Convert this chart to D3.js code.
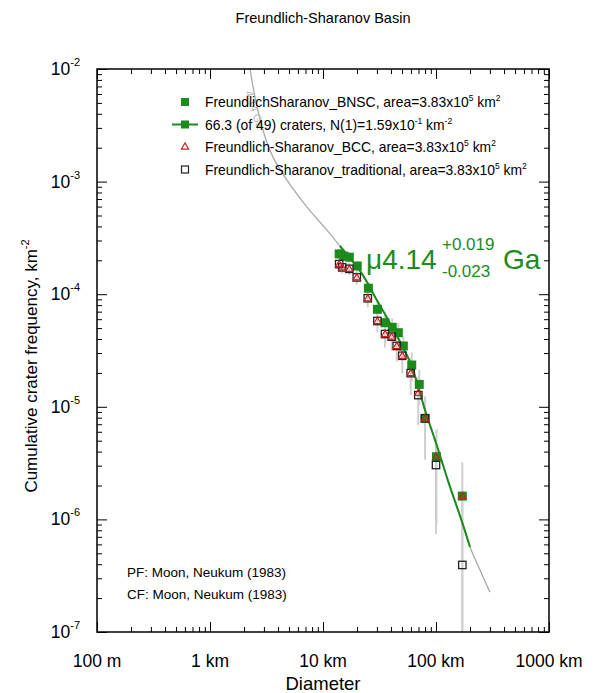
<!DOCTYPE html>
<html>
<head>
<meta charset="utf-8">
<script src="https://cdnjs.cloudflare.com/ajax/libs/d3/7.8.5/d3.min.js"></script>
<style>
  body { margin: 0; background: #fff; }
  svg text { font-family: "Liberation Sans", Arial, Helvetica, sans-serif; }
</style>
</head>
<body>
<div id="chart"></div>
<script>
// crater diameters (km) and cumulative frequencies (km^-2)
var bnscD   = [13.9, 15.3, 17.1, 20.1, 25.2, 30.3, 35.4, 41.0, 46.4, 51.4, 61.0, 71.1, 80.0, 101, 171];
var bnscN   = [2.28e-4, 2.18e-4, 2.13e-4, 1.78e-4, 1.13e-4, 7.34e-5, 5.58e-5, 5.08e-5, 4.55e-5, 3.47e-5, 2.35e-5, 1.58e-5, 7.9e-6, 3.6e-6, 1.61e-6];
var bnscErr = [2.2e-5, 2.1e-5, 2.1e-5, 1.9e-5, 1.5e-5, 1.2e-5, 1.05e-5, 1.0e-5, 9.5e-6, 8.3e-6, 6.8e-6, 5.5e-6, 3.8e-6, 2.7e-6, 1.6e-6];

var tradD   = [13.9, 14.8, 17.1, 19.9, 24.9, 30.3, 35.4, 40.5, 44.9, 50.3, 59.7, 69.7, 80.0, 100, 171];
var tradN   = [1.85e-4, 1.73e-4, 1.68e-4, 1.41e-4, 9.2e-5, 5.78e-5, 4.43e-5, 4.2e-5, 3.47e-5, 2.84e-5, 1.99e-5, 1.27e-5, 7.9e-6, 3.04e-6, 3.94e-7];
var tradErr = [2.2e-5, 2.1e-5, 2.1e-5, 1.9e-5, 1.55e-5, 1.2e-5, 1.07e-5, 1.05e-5, 9.5e-6, 8.6e-6, 7.2e-6, 5.8e-6, 4.5e-6, 2.3e-6, 1.0e-6];

var bccN    = [1.85e-4, 1.73e-4, 1.68e-4, 1.41e-4, 9.2e-5, 5.78e-5, 4.43e-5, 4.2e-5, 3.47e-5, 2.84e-5, 1.99e-5, 1.33e-5, 7.9e-6, 3.6e-6, 1.61e-6];

// 4.14 Ga isochron (Neukum 1983 PF)
var isoD = [2.21, 2.50, 2.94, 3.61, 4.80, 7.22, 10.8, 14.1, 22.0, 29.9, 37.8, 58.9, 69.3, 79.9, 100, 128, 170, 200, 245, 300];
var isoN = [1.15e-2, 5.64e-3, 2.87e-3, 1.65e-3, 1.03e-3, 5.94e-4, 3.72e-4, 2.68e-4, 1.53e-4, 8.88e-5, 5.90e-5, 2.50e-5, 1.53e-5, 9.37e-6, 4.77e-6, 2.19e-6, 9.5e-7, 5.69e-7, 3.55e-7, 2.26e-7];
var fitRange = [14.1, 200];

var xMajor  = [0.1, 1, 10, 100, 1000];
var xLabels = ["100 m", "1 km", "10 km", "100 km", "1000 km"];
var yMajor  = [1e-2, 1e-3, 1e-4, 1e-5, 1e-6, 1e-7];
var yExp    = ["-2", "-3", "-4", "-5", "-6", "-7"];

var legendRows = [
  {mark: "fill",  main: "FreundlichSharanov_BNSC, area=3.83x10", s1: "5", mid: " km", s2: "2"},
  {mark: "line",  main: "66.3 (of 49) craters, N(1)=1.59x10", s1: "-1", mid: " km", s2: "-2"},
  {mark: "tri",   main: "Freundlich-Sharanov_BCC, area=3.83x10", s1: "5", mid: " km", s2: "2"},
  {mark: "open",  main: "Freundlich-Sharanov_traditional, area=3.83x10", s1: "5", mid: " km", s2: "2"}
];

var W = 596, H = 693;
var pL = 97, pR = 549, pT = 69, pB = 632;
var green = "#1b8c1b", red = "#cc2020";

var svg = d3.select("#chart").append("svg")
    .attr("width", W).attr("height", H);

var x = d3.scaleLog().domain([0.1, 1000]).range([pL, pR]);
var y = d3.scaleLog().domain([1e-7, 1e-2]).range([pB, pT]);

svg.append("clipPath").attr("id", "plotclip")
  .append("rect").attr("x", pL).attr("y", pT)
  .attr("width", pR - pL).attr("height", pB - pT);

// title
svg.append("text").attr("x", 323).attr("y", 23)
  .attr("text-anchor", "middle").style("font-size", "14.5px")
  .text("Freundlich-Sharanov Basin");

// ticks: majors + minors on all four sides, pointing inward
var xMinor = x.ticks().filter(function(t) { return xMajor.every(function(m) { return Math.abs(m - t) / m > 1e-6; }); });
var yMinor = y.ticks().filter(function(t) { return yMajor.every(function(m) { return Math.abs(m - t) / m > 1e-6; }); });

function addAxis(axis, tx, ty) {
  var g = svg.append("g").attr("transform", "translate(" + tx + "," + ty + ")").call(axis);
  g.select(".domain").remove();
  g.selectAll("text").remove();
  g.selectAll("line").attr("stroke", "#000").attr("stroke-width", 1);
}
addAxis(d3.axisBottom(x).tickValues(xMajor).tickSize(-10), 0, pB);
addAxis(d3.axisBottom(x).tickValues(xMinor).tickSize(-5), 0, pB);
addAxis(d3.axisTop(x).tickValues(xMajor).tickSize(-10), 0, pT);
addAxis(d3.axisTop(x).tickValues(xMinor).tickSize(-5), 0, pT);
addAxis(d3.axisLeft(y).tickValues(yMajor).tickSize(-10), pL, 0);
addAxis(d3.axisLeft(y).tickValues(yMinor).tickSize(-5), pL, 0);
addAxis(d3.axisRight(y).tickValues(yMajor).tickSize(-10), pR, 0);
addAxis(d3.axisRight(y).tickValues(yMinor).tickSize(-5), pR, 0);

// tick labels
svg.append("g").selectAll("text").data(xMajor).enter().append("text")
  .attr("x", function(d) { return x(d); }).attr("y", 667)
  .attr("text-anchor", "middle").style("font-size", "17.5px")
  .text(function(d, i) { return xLabels[i]; });

var yl = svg.append("g").selectAll("text").data(yMajor).enter().append("text")
  .attr("x", 80).attr("y", function(d) { return y(d) + 6; })
  .attr("text-anchor", "end").style("font-size", "17.5px");
yl.append("tspan").text("10");
yl.append("tspan").attr("dy", -9).style("font-size", "11px")
  .text(function(d, i) { return yExp[i]; });

// axis titles
svg.append("text").attr("x", 323).attr("y", 690)
  .attr("text-anchor", "middle").style("font-size", "18.5px").text("Diameter");
var yt = svg.append("text").attr("transform", "translate(37,366) rotate(-90)")
  .attr("text-anchor", "middle").style("font-size", "17px");
yt.append("tspan").text("Cumulative crater frequency, km");
yt.append("tspan").attr("dy", -8).style("font-size", "11px").text("-2");

var plot = svg.append("g").attr("clip-path", "url(#plotclip)");

// isochron + fit segment
var isoPts = isoD.map(function(d, i) { return [d, isoN[i]]; });
var line = d3.line().curve(d3.curveCatmullRom.alpha(0.5))
  .x(function(d) { return x(d[0]); }).y(function(d) { return y(d[1]); });
plot.append("path").attr("d", line(isoPts))
  .attr("fill", "none").attr("stroke", "#aaa").attr("stroke-width", 1.3);

svg.append("text").attr("transform", "translate(245,92) rotate(72)")
  .style("font-size", "11px").attr("fill", "#b8b8b8").text("4.14 Ga");

// error bars
function errBars(D, N, E) {
  plot.append("g").selectAll("line").data(D).enter().append("line")
    .attr("x1", function(d) { return x(d); }).attr("x2", function(d) { return x(d); })
    .attr("y1", function(d, i) { return y(N[i] + E[i]); })
    .attr("y2", function(d, i) { return N[i] - E[i] > 1e-8 ? y(N[i] - E[i]) : pB + 5; })
    .attr("stroke", "#cfcfcf").attr("stroke-width", 2);
}
errBars(tradD, tradN, tradErr);
errBars(bnscD, bnscN, bnscErr);

var fitPts = isoPts.filter(function(p) { return p[0] >= fitRange[0] && p[0] <= fitRange[1]; });
plot.append("path").attr("d", line(fitPts))
  .attr("fill", "none").attr("stroke", green).attr("stroke-width", 2);

// points
plot.append("g").selectAll("rect").data(bnscD).enter().append("rect")
  .attr("x", function(d) { return x(d) - 4.5; })
  .attr("y", function(d, i) { return y(bnscN[i]) - 4.5; })
  .attr("width", 9).attr("height", 9).attr("fill", green);

plot.append("g").selectAll("rect").data(tradD).enter().append("rect")
  .attr("x", function(d) { return x(d) - 3.7; })
  .attr("y", function(d, i) { return y(tradN[i]) - 3.7; })
  .attr("width", 7.4).attr("height", 7.4)
  .attr("fill", "none").attr("stroke", "#222").attr("stroke-width", 1.3);

var tri = d3.symbol().type(d3.symbolTriangle).size(22);
plot.append("g").selectAll("path").data(tradD).enter().append("path")
  .attr("d", tri)
  .attr("transform", function(d, i) { return "translate(" + x(d) + "," + (y(bccN[i]) + 0.5) + ")"; })
  .attr("fill", "none").attr("stroke", red).attr("stroke-width", 1.2);

// age label
var age = svg.append("text").attr("x", 366).attr("y", 269)
  .attr("fill", green).style("font-size", "28px");
age.append("tspan").text("\u03bc4.14");
age.append("tspan").attr("x", 442).attr("y", 250).style("font-size", "17px").text("+0.019");
age.append("tspan").attr("x", 442).attr("y", 277).style("font-size", "17px").text("-0.023");
age.append("tspan").attr("x", 503).attr("y", 269).text("Ga");

// legend
var lg = svg.append("g").selectAll("g").data(legendRows).enter().append("g")
  .attr("transform", function(d, i) { return "translate(185," + (102 + i * 22.5) + ")"; });
lg.each(function(d) {
  var g = d3.select(this);
  if (d.mark === "fill" || d.mark === "line") {
    if (d.mark === "line") g.append("line").attr("x1", -13).attr("x2", 13)
      .attr("stroke", green).attr("stroke-width", 2);
    g.append("rect").attr("x", -4).attr("y", -4).attr("width", 8).attr("height", 8).attr("fill", green);
  } else if (d.mark === "tri") {
    g.append("path").attr("d", tri).attr("fill", "none").attr("stroke", red).attr("stroke-width", 1.2);
  } else {
    g.append("rect").attr("x", -3.5).attr("y", -3.5).attr("width", 7).attr("height", 7)
      .attr("fill", "none").attr("stroke", "#222").attr("stroke-width", 1.2);
  }
  var t = g.append("text").attr("x", 20).attr("y", 5).style("font-size", "13.9px");
  t.append("tspan").text(d.main);
  t.append("tspan").attr("dy", -6).style("font-size", "8.5px").text(d.s1);
  t.append("tspan").attr("dy", 6).text(d.mid);
  t.append("tspan").attr("dy", -6).style("font-size", "8.5px").text(d.s2);
});

// chronology notes
svg.append("text").attr("x", 127).attr("y", 577).style("font-size", "13.5px")
  .text("PF: Moon, Neukum (1983)");
svg.append("text").attr("x", 127).attr("y", 599).style("font-size", "13.5px")
  .text("CF: Moon, Neukum (1983)");

// frame
svg.append("rect").attr("x", pL).attr("y", pT)
  .attr("width", pR - pL).attr("height", pB - pT)
  .attr("fill", "none").attr("stroke", "#000").attr("stroke-width", 1.5);
</script>
</body>
</html>
